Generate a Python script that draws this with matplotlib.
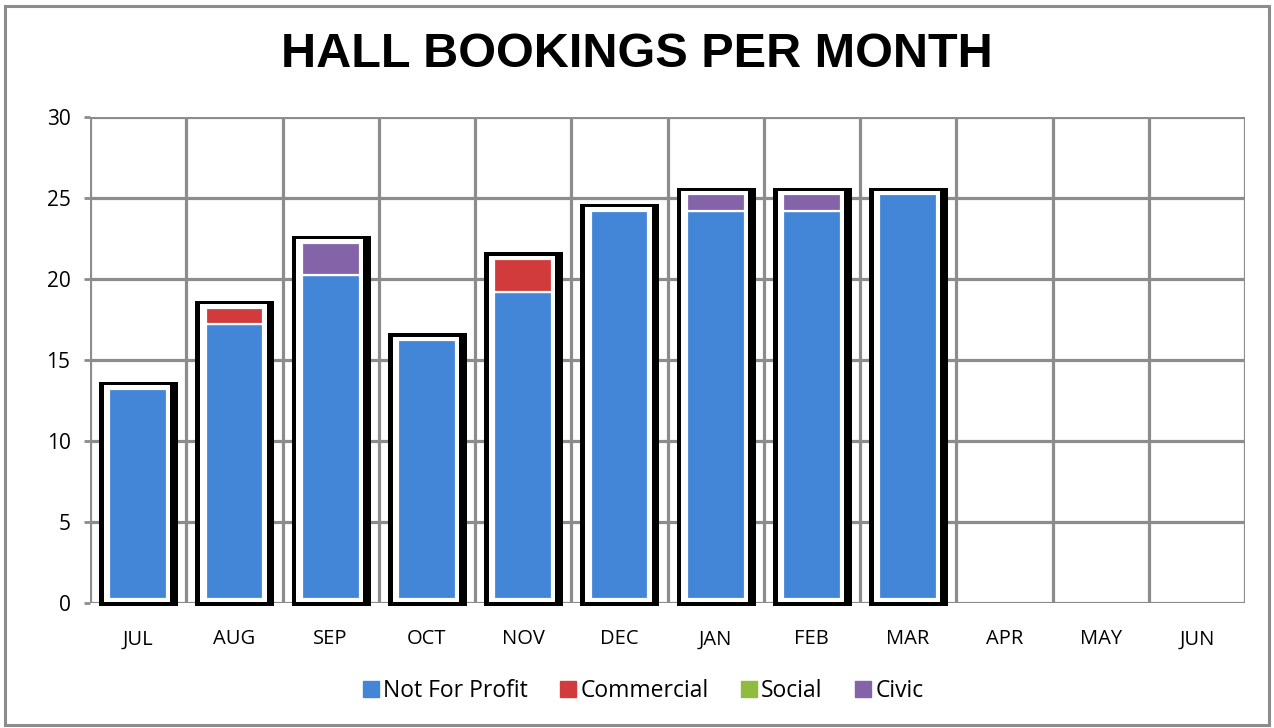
import matplotlib
matplotlib.use("Agg")
import matplotlib.pyplot as plt
import numpy as np
from matplotlib.lines import Line2D
from matplotlib.patches import Rectangle

months = ["JUL", "AUG", "SEP", "OCT", "NOV", "DEC", "JAN", "FEB", "MAR", "APR", "MAY", "JUN"]
not_for_profit = [13, 17, 20, 16, 19, 24, 24, 24, 25, 0, 0, 0]
commercial = [0, 1, 0, 0, 2, 0, 0, 0, 0, 0, 0, 0]
social = [0, 0, 0, 0, 0, 0, 0, 0, 0, 0, 0, 0]
civic = [0, 0, 2, 0, 0, 0, 1, 1, 0, 0, 0, 0]
series_names = ["Not For Profit", "Commercial", "Social", "Civic"]
colors = ["#4385d6", "#d23b3b", "#8fbb3e", "#8463a8"]
y_ticks = [0, 5, 10, 15, 20, 25, 30]

FONT = ["Open Sans", "DejaVu Sans"]
plt.rcParams['font.family'] = FONT

fig = plt.figure(figsize=(12.74, 7.28), dpi=100)
fig.patches.append(Rectangle((0.004, 0.004), 0.992, 0.988, transform=fig.transFigure,
                             fill=False, edgecolor="#8c8c8c", linewidth=2.2, zorder=0))
ax = fig.add_axes([90/1274, 125/728, (1245-90)/1274, (603-117)/728])

x = np.arange(len(months))
series = [np.array(not_for_profit), np.array(commercial), np.array(social), np.array(civic)]
totals = sum(series)
has = totals > 0

offset = 0.22
# black shadow frame and white mat
ax.bar(x[has] + 0.005, totals[has] + 0.84, bottom=-0.2, width=0.82, color="black",
       zorder=3, clip_on=False)
ax.bar(x[has] - 0.01, totals[has] + 0.37, bottom=0.08, width=0.69, color="white", zorder=4)

cum = np.zeros(len(months))
for vals, c in zip(series, colors):
    m = vals > 0
    ax.bar(x[m], vals[m], bottom=cum[m] + offset, width=0.6, color=c,
           edgecolor="white", linewidth=1.6, zorder=5)
    cum += vals

ax.set_xlim(-0.5, len(months) - 0.5)
ax.set_ylim(0, 30)
ax.set_yticks(y_ticks)
ax.set_xticks(x)
ax.set_xticklabels(months)
ax.grid(False)
for yv in y_ticks:
    ax.axhline(yv, color="#8c8c8c", linewidth=2.3, zorder=1)
for xv in np.arange(-0.5, len(months), 1.0):
    ax.axvline(xv, color="#8c8c8c", linewidth=2.3, zorder=1)
for s in ax.spines.values():
    s.set_visible(False)
ax.tick_params(axis="x", which="major", length=0, pad=19, labelsize=14.5)
ax.tick_params(axis="y", length=4, width=2, color="#8c8c8c", pad=10, labelsize=15)

fig.text(0.5, 0.925, "HALL BOOKINGS PER MONTH", ha="center", va="center",
         fontsize=35, fontweight="bold", family=["Liberation Sans", "DejaVu Sans"])

handles = [Line2D([], [], linestyle="none", marker="s", markersize=12,
                  markerfacecolor=c, markeredgecolor=c) for c in colors]
fig.legend(handles, series_names, loc="center", bbox_to_anchor=(0.5055, 0.051),
           ncol=4, frameon=False, fontsize=16.5, handlelength=0.55, handletextpad=0.25,
           columnspacing=1.5)

fig.savefig("out.png", dpi=100)
